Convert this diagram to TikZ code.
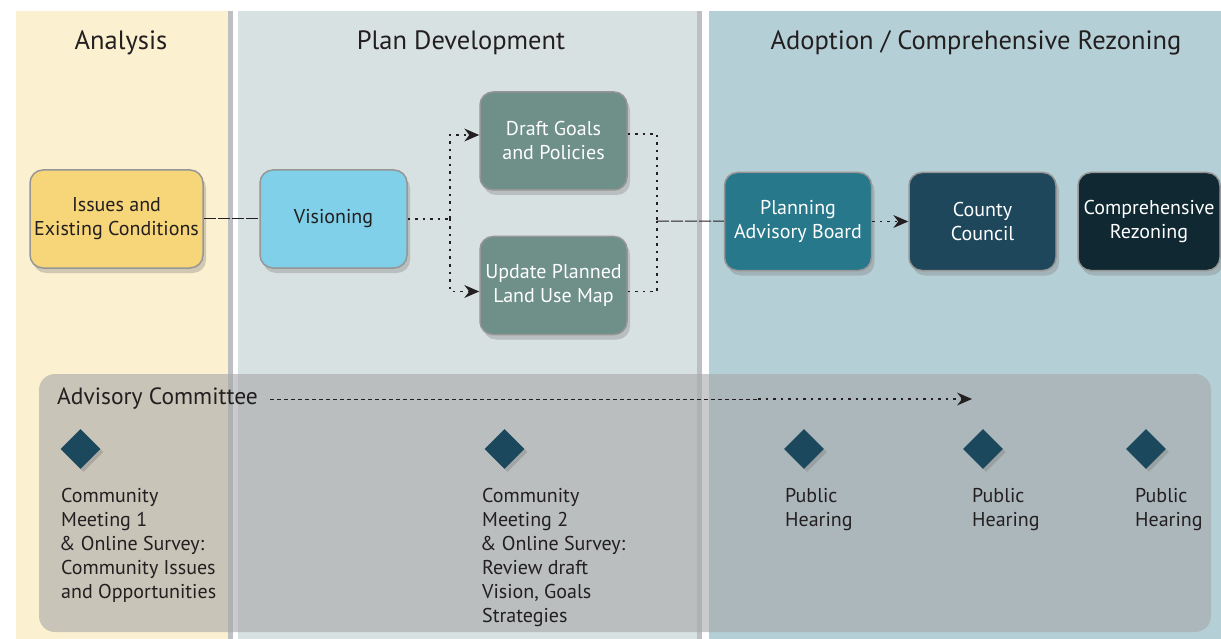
\documentclass[tikz,border=0pt]{standalone}
\usepackage{fontspec}
\setmainfont{PT Sans}
\usetikzlibrary{shapes.geometric,shadows,arrows.meta}
\definecolor{analysisbg}{RGB}{251,240,207}
\definecolor{planbg}{RGB}{216,225,225}
\definecolor{adoptbg}{RGB}{181,207,214}
\definecolor{divider}{RGB}{190,191,195}
\definecolor{issuesfill}{RGB}{247,214,121}
\definecolor{visionfill}{RGB}{127,208,232}
\definecolor{draftfill}{RGB}{110,144,136}
\definecolor{pabfill}{RGB}{40,120,140}
\definecolor{councilfill}{RGB}{30,71,92}
\definecolor{rezonefill}{RGB}{15,40,49}
\definecolor{diamondfill}{RGB}{28,72,94}
\definecolor{boxedge}{RGB}{150,150,150}
\definecolor{panelfill}{RGB}{166,168,169}
\definecolor{ink}{RGB}{35,31,32}
\begin{document}
\begin{tikzpicture}[x=1pt,y=-1pt,
  stagebox/.style={draw=boxedge,line width=1.5pt,rounded corners=13pt,
    minimum width=147pt,minimum height=98pt,align=center,inner sep=1pt,
    font=\fontsize{20}{24}\selectfont,
    drop shadow={shadow xshift=3pt,shadow yshift=-5pt,opacity=0.35}},
  milestone/.style={diamond,fill=diamondfill,minimum width=40pt,minimum height=40pt,inner sep=0pt,
    drop shadow={shadow xshift=3pt,shadow yshift=-3pt,opacity=0.4}},
  phase/.style={font=\fontsize{26.5}{30}\selectfont,text=ink},
  note/.style={anchor=north west,align=left,inner sep=0pt,font=\fontsize{20}{24}\selectfont,text=ink},
  joinline/.style={draw=ink,line width=1pt,dash pattern=on 12pt off 2pt},
  dotline/.style={draw=ink,line width=1.3pt,dash pattern=on 2.5pt off 5pt},
  flowarrow/.style={-{Stealth[length=15pt,width=13pt,inset=5pt,line width=0pt,fill=ink]}}]
\fill[white] (0,0) rectangle (1221,639);
\useasboundingbox (0,0) rectangle (1221,639);
% phase columns
\fill[analysisbg] (16,11) rectangle (228,639);
\fill[divider] (228,11) rectangle (233,639);
\fill[planbg] (238,11) rectangle (697,639);
\fill[divider] (697,11) rectangle (702,639);
\fill[adoptbg] (709,11) rectangle (1221,639);
\node[phase] (analysis) at (121,43) {Analysis};
\node[phase] (plandev) at (461,43) {Plan Development};
\node[phase] (adoption) at (976,43) {Adoption / Comprehensive Rezoning};
% process boxes
\node[stagebox,fill=issuesfill,text=ink,minimum width=173pt] (issues) at (116.5,219) {Issues and\\Existing Conditions};
\node[stagebox,fill=visionfill,text=ink] (vision) at (333.5,219) {Visioning};
\node[stagebox,fill=draftfill,text=white] (draft) at (553.5,141) {Draft Goals\\and Policies};
\node[stagebox,fill=draftfill,text=white] (update) at (553.5,285.5) {Update Planned\\Land Use Map};
\node[stagebox,fill=pabfill,text=white] (pab) at (798,221.5) {Planning\\Advisory Board};
\node[stagebox,fill=councilfill,text=white] (council) at (982.5,221.5) {County\\Council};
\node[stagebox,fill=rezonefill,text=white,minimum width=142pt] (rezone) at (1149,221.5) {Comprehensive\\Rezoning};
\coordinate (fork) at (450,219);
\coordinate (merge) at (657,221);
\draw[joinline] (issues) -- (vision);
\draw[dotline] (vision) -- (fork);
\draw[dotline,flowarrow] (fork) |- ([yshift=6pt]draft.west);
\draw[dotline,flowarrow] (fork) |- ([yshift=-6pt]update.west);
\draw[dotline] ([yshift=7pt]draft.east) -| (merge);
\draw[dotline] ([yshift=-6pt]update.east) -| (merge);
\draw[joinline] (merge) -- (pab);
\draw[dotline,flowarrow] (pab) -- (council);
% advisory committee panel
\fill[panelfill,fill opacity=0.6,rounded corners=16pt] (39,374) rectangle (1211,632);
\node[anchor=west,inner sep=0pt,font=\fontsize{23.5}{28}\selectfont,text=ink] (advisory) at (57,399) {Advisory Committee};
\coordinate (advmid) at (758,399);
\coordinate (advend) at (972,399);
\draw[draw=ink,line width=1pt,dash pattern=on 4pt off 3pt] ([xshift=12pt]advisory.east) -- (advmid);
\draw[dotline,flowarrow] (advmid) -- (advend);
\node[milestone] (cm1) at (80.5,449) {};
\node[milestone] (cm2) at (504.5,449) {};
\node[note] (cm1text) at (61,488) {Community\\Meeting 1\\\kern-2pt\& Online Survey:\\Community Issues\\and Opportunities};
\node[note] (cm2text) at (482,488) {Community\\Meeting 2\\\kern-2pt\& Online Survey:\\Review draft\\Vision, Goals\\Strategies};
\foreach \x/\t/\n in {804/785/ph1, 983/972/ph2, 1146/1135/ph3} {
  \node[milestone] (\n) at (\x,449) {};
  \node[note] (\n text) at (\t,488) {Public\\Hearing};
}
\end{tikzpicture}
\end{document}
